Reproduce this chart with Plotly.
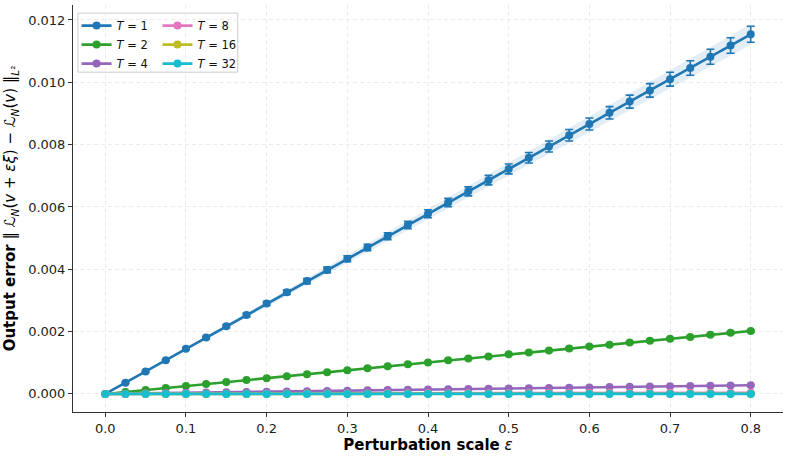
import plotly.graph_objects as go

eps = [0.0, 0.025, 0.05, 0.075, 0.1, 0.125, 0.15, 0.175, 0.2, 0.225, 0.25, 0.275, 0.3,
       0.325, 0.35, 0.375, 0.4, 0.425, 0.45, 0.475, 0.5, 0.525, 0.55, 0.575, 0.6,
       0.625, 0.65, 0.675, 0.7, 0.725, 0.75, 0.775, 0.8]

labels = ["T = 1", "T = 2", "T = 4", "T = 8", "T = 16", "T = 32"]
colors = ["#1f77b4", "#2ca02c", "#9467bd", "#e377c2", "#bcbd22", "#17becf"]
bands = ["rgba(31,119,180,0.13)", "rgba(44,160,44,0.13)", "rgba(148,103,189,0.13)",
         "rgba(227,119,194,0.13)", "rgba(188,189,34,0.13)", "rgba(23,190,207,0.13)"]

mean_T1 = [0.0, 0.00036, 0.00072, 0.00108, 0.00145, 0.00181, 0.00217, 0.00253, 0.0029,
           0.00326, 0.00362, 0.00398, 0.00434, 0.0047, 0.00506, 0.00542, 0.00578,
           0.00614, 0.0065, 0.00686, 0.00722, 0.00758, 0.00794, 0.0083, 0.00866,
           0.00902, 0.00938, 0.00974, 0.0101, 0.01046, 0.01082, 0.01118, 0.01154]
err_T1 = [0.0, 0.000008, 0.000016, 0.000024, 0.000032, 0.00004, 0.000048, 0.000056,
          0.000064, 0.000072, 0.00008, 0.000088, 0.000096, 0.000104, 0.000112, 0.00012,
          0.000128, 0.000136, 0.000144, 0.000152, 0.00016, 0.000168, 0.000176, 0.000184,
          0.000192, 0.0002, 0.000208, 0.000216, 0.000224, 0.000232, 0.00024, 0.000248,
          0.000256]

mean_T2 = [0.0, 0.000063, 0.000127, 0.00019, 0.000253, 0.000316, 0.00038, 0.000443,
           0.000506, 0.000569, 0.000633, 0.000696, 0.000759, 0.000822, 0.000886, 0.000949,
           0.00101, 0.00108, 0.00114, 0.0012, 0.00127, 0.00133, 0.00139, 0.00146, 0.00152,
           0.00158, 0.00165, 0.00171, 0.00177, 0.00183, 0.0019, 0.00196, 0.00202]
err_T2 = [0.0, 0.0000013, 0.0000025, 0.0000038, 0.000005, 0.0000063, 0.0000076, 0.0000089,
          0.00001, 0.000011, 0.000013, 0.000014, 0.000015, 0.000016, 0.000018, 0.000019,
          0.00002, 0.000022, 0.000023, 0.000024, 0.000025, 0.000027, 0.000028, 0.000029,
          0.00003, 0.000032, 0.000033, 0.000034, 0.000035, 0.000037, 0.000038, 0.000039,
          0.00004]

mean_T4 = [0.0, 0.0000088, 0.0000175, 0.0000263, 0.000035, 0.0000438, 0.0000525, 0.0000613,
           0.00007, 0.0000788, 0.0000875, 0.0000963, 0.000105, 0.000114, 0.000123, 0.000131,
           0.00014, 0.000149, 0.000158, 0.000166, 0.000175, 0.000184, 0.000193, 0.000201,
           0.00021, 0.000219, 0.000228, 0.000236, 0.000245, 0.000254, 0.000263, 0.000271,
           0.00028]
err_T4 = [0.0, 0.0000002, 0.0000004, 0.0000005, 0.0000007, 0.0000009, 0.000001, 0.0000012,
          0.0000014, 0.0000016, 0.0000018, 0.0000019, 0.0000021, 0.0000023, 0.0000025,
          0.0000026, 0.0000028, 0.000003, 0.0000032, 0.0000033, 0.0000035, 0.0000037,
          0.0000039, 0.000004, 0.0000042, 0.0000044, 0.0000046, 0.0000047, 0.0000049,
          0.0000051, 0.0000053, 0.0000054, 0.0000056]

mean_T8 = [0.0, 0.0000013, 0.0000025, 0.0000038, 0.000005, 0.0000063, 0.0000075, 0.0000088,
           0.00001, 0.000011, 0.000013, 0.000014, 0.000015, 0.000016, 0.000018, 0.000019,
           0.00002, 0.000021, 0.000023, 0.000024, 0.000025, 0.000026, 0.000028, 0.000029,
           0.00003, 0.000031, 0.000033, 0.000034, 0.000035, 0.000036, 0.000038, 0.000039,
           0.00004]
err_T8 = [0.0] * 33

mean_T16 = [0.0, 0.0000002, 0.0000004, 0.0000006, 0.0000008, 0.000001, 0.0000012, 0.0000013,
            0.0000015, 0.0000017, 0.0000019, 0.0000021, 0.0000023, 0.0000025, 0.0000027,
            0.0000029, 0.000003, 0.0000032, 0.0000034, 0.0000036, 0.0000038, 0.000004,
            0.0000042, 0.0000044, 0.0000046, 0.0000047, 0.0000049, 0.0000051, 0.0000053,
            0.0000055, 0.0000057, 0.0000059, 0.000006]
err_T16 = [0.0] * 33

mean_T32 = [0.0, 0.00000003, 0.00000005, 0.00000008, 0.0000001, 0.00000013, 0.00000015,
            0.00000018, 0.0000002, 0.00000023, 0.00000025, 0.00000028, 0.0000003,
            0.00000033, 0.00000035, 0.00000038, 0.0000004, 0.00000043, 0.00000045,
            0.00000048, 0.0000005, 0.00000053, 0.00000055, 0.00000058, 0.0000006,
            0.00000063, 0.00000065, 0.00000068, 0.0000007, 0.00000073, 0.00000075,
            0.00000078, 0.0000008]
err_T32 = [0.0] * 33

means = [mean_T1, mean_T2, mean_T4, mean_T8, mean_T16, mean_T32]
errs = [err_T1, err_T2, err_T4, err_T8, err_T16, err_T32]

fig = go.Figure()

# shaded bands
for m, e, bc in zip(means, errs, bands):
    lo = [a - 1.3 * b for a, b in zip(m, e)]
    hi = [a + 1.3 * b for a, b in zip(m, e)]
    fig.add_trace(go.Scatter(x=eps, y=lo, mode="lines", line=dict(width=0),
                             showlegend=False, hoverinfo="skip"))
    fig.add_trace(go.Scatter(x=eps, y=hi, mode="lines", line=dict(width=0),
                             fill="tonexty", fillcolor=bc, showlegend=False,
                             hoverinfo="skip"))

for i, (m, e, c, lab) in enumerate(zip(means, errs, colors, labels)):
    t = lab.split(" = ")[1]
    fig.add_trace(go.Scatter(
        x=eps, y=m, mode="lines+markers", name=f"<i>T</i> = {t}",
        line=dict(color=c, width=2.6),
        marker=dict(color=c, size=8),
        error_y=dict(type="data", array=e, visible=True, color=c,
                     thickness=1.6, width=4),
        legend="legend" if i < 3 else "legend2",
    ))

axis_common = dict(
    showline=True, linecolor="#333333", linewidth=1,
    ticks="outside", ticklen=4, tickcolor="#333333", tickwidth=1,
    showgrid=True, gridcolor="#ebebeb", griddash="4px,3px", gridwidth=1,
    zeroline=False, tickfont=dict(family="DejaVu Sans", size=13, color="#222222"),
    mirror=False,
)

leg_common = dict(yanchor="top", xanchor="left", bgcolor="rgba(0,0,0,0)", borderwidth=0,
                  font=dict(size=11.5, family="DejaVu Sans", color="#111111"),
                  tracegroupgap=0, itemwidth=30, traceorder="normal")

fig.update_layout(
    width=791, height=475,
    margin=dict(l=73, r=8, t=5, b=63),
    paper_bgcolor="white", plot_bgcolor="white",
    font=dict(family="DejaVu Sans", color="#111111"),
    xaxis=dict(range=[-0.04, 0.84], tickvals=[0, 0.1, 0.2, 0.3, 0.4, 0.5, 0.6, 0.7, 0.8],
               tickformat=".1f",
               title=dict(text="<b>Perturbation scale</b> <i>ε</i>",
                          font=dict(size=15, family="DejaVu Sans", color="#000000"),
                          standoff=2),
               **axis_common),
    yaxis=dict(range=[-0.00058, 0.01248],
               tickvals=[0, 0.002, 0.004, 0.006, 0.008, 0.010, 0.012],
               tickformat=".3f",
               title=dict(text="<b>Output error</b> ‖ <i>ℒ<sub>N</sub></i>(<i>v</i> + <i>εξ</i>) − <i>ℒ<sub>N</sub></i>(<i>v</i>) ‖<sub><i>L</i>²</sub>",
                          font=dict(size=15, family="DejaVu Sans", color="#000000"),
                          standoff=8),
               **axis_common),
    legend=dict(x=0.005, y=0.985, **leg_common),
    legend2=dict(x=0.119, y=0.985, **leg_common),
    shapes=[dict(type="rect", xref="paper", yref="paper",
                 x0=0.007, x1=0.232, y0=0.835, y1=0.980,
                 line=dict(color="#cccccc", width=1), fillcolor="rgba(255,255,255,0.8)",
                 layer="below")],
)

fig.write_html("out.html")
